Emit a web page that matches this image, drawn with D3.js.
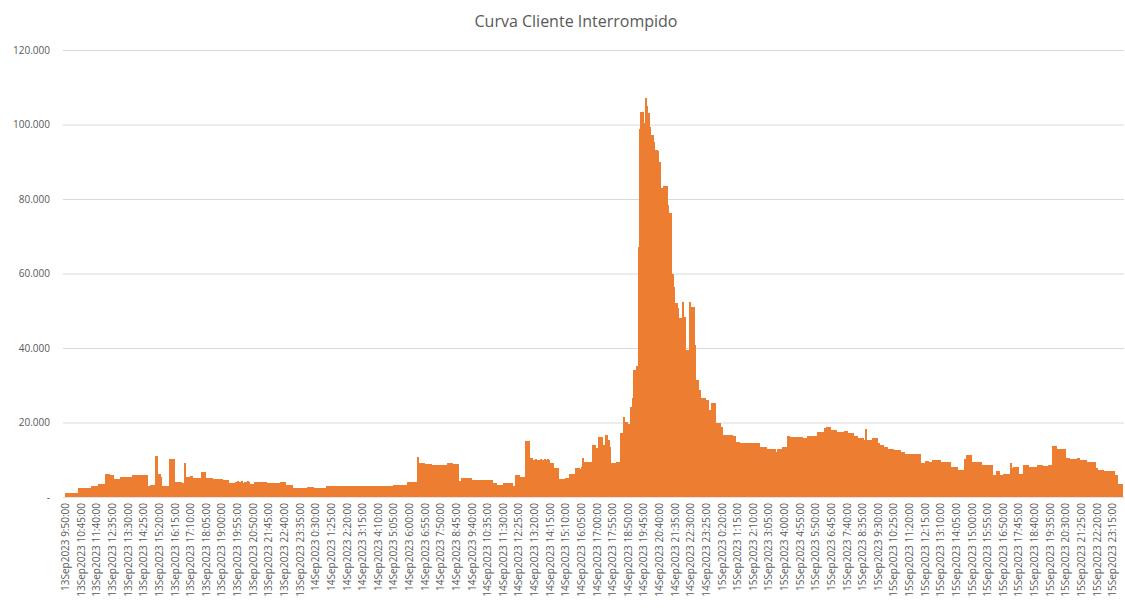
<!DOCTYPE html>
<html>
<head>
<meta charset="utf-8">
<script src="https://cdn.jsdelivr.net/npm/d3@7"></script>
<style>
  body { margin: 0; background: #fff; }
  text { font-family: "Open Sans", "Liberation Sans", Arial, sans-serif; fill: #595959; }
</style>
</head>
<body>
<svg width="1125" height="608"></svg>
<script>
// chart title
var title = "Curva Cliente Interrompido";

// clientes interrompidos, one value per 5 minute bar (13Sep2023 9:50 onwards)
var clientes = [
  1200,1200,1200,1200,1200,1200,1200,1200,1200,
  2500,2500,2500,2500,2500,2500,2500,2500,2500,
  2900,2900,2900,2900,2900,
  3400,3400,3400,3400,3400,
  6300,6300,6300,
  6000,6000,6000,
  4900,4900,4900,4900,4900,
  5400,5400,5400,
  5300,5300,5300,5300,5300,
  6000,6000,6000,6000,6000,6000,6000,6000,6000,6000,6000,
  2900,2900,
  3200,3200,3200,
  11100,11100,
  6300,6300,
  5500,
  2900,2900,2900,2900,2900,
  10300,10300,10300,10300,
  4100,4100,4100,4100,4100,
  3700,3700,
  9200,
  5500,
  5300,5300,
  5700,5700,
  5100,5100,5100,5100,5100,5100,
  6800,6800,6800,
  5200,5200,5200,5200,5200,
  4800,4800,4800,4800,4800,4800,4800,
  4600,4600,4600,4600,
  3700,3700,3700,3700,3700,
  4000,4200,3900,4100,4200,3800,4100,4000,4200,3900,
  3600,3600,3600,
  4000,4000,4000,4000,4000,4000,4000,4000,4000,
  3700,3700,3700,3700,3700,3700,3700,3700,3700,
  4100,4100,4100,4100,
  3200,3200,3200,3200,3200,
  2500,2500,2500,2500,2500,2500,2500,2500,2500,2500,
  2700,2700,2700,2700,2700,
  2500,2500,2500,2500,2500,2500,2500,2500,2500,
  2900,2900,2900,2900,2900,2900,2900,2900,2900,2900,
  2900,2900,2900,2900,2900,2900,2900,2900,2900,2900,
  2900,2900,2900,2900,2900,2900,2900,2900,2900,2900,
  2900,2900,2900,2900,2900,2900,2900,2900,2900,2900,
  2900,2900,2900,2900,2900,2900,2900,
  3200,3200,3200,3200,3200,
  // 14Sep
  3100,3100,3100,3100,3100,
  4100,4100,4100,4100,4100,4100,4100,
  10700,
  9200,9200,9200,9200,
  8800,8800,8800,8800,8800,
  8600,8600,8600,8600,
  8500,8500,8500,8500,8500,8500,8500,
  9200,9200,9200,9200,
  8900,8900,8900,8900,
  4400,4400,
  5200,5200,5200,5200,5200,5200,5200,
  4600,4600,4600,4600,4600,4600,4600,4600,4600,4600,4600,4600,4600,4600,4600,
  3700,3700,3700,
  3200,3200,3200,3200,
  3700,3700,3700,3700,3700,3700,3700,
  2900,2900,
  5900,5900,5900,
  5400,5400,5400,5400,
  15100,15100,15100,
  10400,10400,
  9800,10000,10100,9900,10000,10200,10000,9900,10100,10000,10200,10000,
  9000,9000,9000,
  7700,7700,7700,
  4800,4800,4800,4800,4800,
  5200,5200,5200,
  6300,6300,6300,6300,
  7700,7700,
  7800,7500,8000,10400,
  9500,9500,9500,9500,9500,9500,
  14000,14000,
  13100,13100,
  16200,16200,16200,
  14000,14000,
  16600,16600,
  15300,13500,
  9000,9000,9000,9000,
  9300,9300,9300,
  17100,17100,
  21600,
  20200,20200,
  19600,19600,
  24200,26500,
  34100,34100,35200,
  67200,98700,
  103300,103300,100300,107000,105000,103000,99400,
  97200,97200,95400,93200,93200,93000,90000,
  82900,82900,83500,83500,83500,
  78400,76200,76200,
  60000,56500,52000,52000,50700,48000,48000,52400,48400,48400,
  39500,39500,52400,51100,51100,51100,
  40800,31400,31400,28700,
  26500,26500,26500,26500,
  26100,26100,
  23400,23400,
  25200,25200,25200,
  20000,20000,20000,
  18900,18900,
  16600,16600,16600,16600,16600,16600,16600,
  16400,16400,
  14800,14800,14800,
  14600,14600,14600,14600,14600,14600,14600,14600,14600,14600,14600,14600,14600,14600,
  // 15Sep
  13500,13500,13500,13500,13500,
  12800,12800,12800,12800,12800,12800,
  12200,
  13000,13000,13000,13000,
  13500,13500,13500,
  16400,16400,
  16000,16000,16000,16000,16000,16000,
  16200,16200,16200,
  15900,15900,15900,
  16400,16400,16400,16400,16400,16400,16400,
  17400,17400,17400,17400,17400,
  18400,18400,
  18900,18900,18900,
  18000,18000,18000,18000,
  17500,17500,17500,17500,17500,
  17800,17800,17800,
  17100,17100,17100,17100,
  16400,16400,16400,
  15800,15800,15800,15800,
  15300,18200,15300,
  15300,15300,15300,
  15800,15800,15800,15800,
  14500,
  13900,13900,13900,
  13500,13500,13500,
  12800,12800,12800,12800,
  12500,12500,12500,12500,12500,
  12000,12000,12000,
  11600,11600,11600,11600,11600,11600,11600,11600,11600,11600,11600,
  9100,9100,9100,
  9700,9700,9700,
  9300,9300,
  9900,9900,9900,9900,9900,9900,
  9500,9500,9500,9500,9500,9500,9500,
  8100,8100,8100,8100,8100,
  7200,7200,7200,7200,7200,
  10300,
  11200,11200,11200,11200,
  9500,9500,9500,9500,9500,9500,9500,
  8600,8600,8600,8600,8600,8600,8600,8600,
  5900,5900,
  7000,7000,7000,
  5900,5900,
  6100,6100,6100,6100,6100,
  9000,7700,
  8000,8000,8000,8000,
  6300,6300,6300,
  8600,8600,8600,8600,
  8000,8000,8000,8000,8000,8000,
  8600,8600,8600,8600,
  8300,8300,8300,8300,
  8600,8600,8600,
  13700,13700,13700,
  12800,12800,12800,12800,12800,12800,
  10400,10400,10400,
  10200,10200,10200,10200,10200,
  10400,10400,
  9800,9800,9800,9800,9800,
  9500,9500,9500,9500,9500,9500,
  7700,7700,
  7200,7200,7200,7200,
  7000,7000,7000,7000,7000,7000,7000,7000,
  5900,5900,
  3500,3500,3500
];

// x-axis labels, shown every 11th bar (55 minutes)
var tickLabels = [
  "13Sep2023 9:50:00","13Sep2023 10:45:00","13Sep2023 11:40:00","13Sep2023 12:35:00",
  "13Sep2023 13:30:00","13Sep2023 14:25:00","13Sep2023 15:20:00","13Sep2023 16:15:00",
  "13Sep2023 17:10:00","13Sep2023 18:05:00","13Sep2023 19:00:00","13Sep2023 19:55:00",
  "13Sep2023 20:50:00","13Sep2023 21:45:00","13Sep2023 22:40:00","13Sep2023 23:35:00",
  "14Sep2023 0:30:00","14Sep2023 1:25:00","14Sep2023 2:20:00","14Sep2023 3:15:00",
  "14Sep2023 4:10:00","14Sep2023 5:05:00","14Sep2023 6:00:00","14Sep2023 6:55:00",
  "14Sep2023 7:50:00","14Sep2023 8:45:00","14Sep2023 9:40:00","14Sep2023 10:35:00",
  "14Sep2023 11:30:00","14Sep2023 12:25:00","14Sep2023 13:20:00","14Sep2023 14:15:00",
  "14Sep2023 15:10:00","14Sep2023 16:05:00","14Sep2023 17:00:00","14Sep2023 17:55:00",
  "14Sep2023 18:50:00","14Sep2023 19:45:00","14Sep2023 20:40:00","14Sep2023 21:35:00",
  "14Sep2023 22:30:00","14Sep2023 23:25:00",
  "15Sep2023 0:20:00","15Sep2023 1:15:00","15Sep2023 2:10:00","15Sep2023 3:05:00",
  "15Sep2023 4:00:00","15Sep2023 4:55:00","15Sep2023 5:50:00","15Sep2023 6:45:00",
  "15Sep2023 7:40:00","15Sep2023 8:35:00","15Sep2023 9:30:00","15Sep2023 10:25:00",
  "15Sep2023 11:20:00","15Sep2023 12:15:00","15Sep2023 13:10:00","15Sep2023 14:05:00",
  "15Sep2023 15:00:00","15Sep2023 15:55:00","15Sep2023 16:50:00","15Sep2023 17:45:00",
  "15Sep2023 18:40:00","15Sep2023 19:35:00","15Sep2023 20:30:00","15Sep2023 21:25:00",
  "15Sep2023 22:20:00","15Sep2023 23:15:00"
];
var labelEvery = 11;

// y-axis ticks
var yTicks = [0, 20000, 40000, 60000, 80000, 100000, 120000];

var svg = d3.select("svg"),
    margin = {top: 50, right: 3, bottom: 111, left: 65},
    width = +svg.attr("width") - margin.left - margin.right,
    height = +svg.attr("height") - margin.top - margin.bottom,
    g = svg.append("g").attr("transform", "translate(" + margin.left + "," + margin.top + ")");

// one band per 5 minute bar, no gap between bars (like the excel column chart)
var x = d3.scaleBand()
    .domain(d3.range(clientes.length))
    .range([0, width])
    .padding(0);

var y = d3.scaleLinear()
    .domain([0, 120000])
    .range([height, 0]);

// 120.000 style numbers, zero shown as a dash
var fmt = function(d) {
  if (d === 0) return "-";
  return d3.format(",")(d).replace(/,/g, ".");
};

// title
svg.append("text")
    .attr("x", 576)
    .attr("y", 27)
    .attr("text-anchor", "middle")
    .attr("font-size", 16)
    .text(title);

// gridlines + y labels
var yAxis = g.append("g")
    .call(d3.axisLeft(y).tickValues(yTicks).tickFormat(fmt).tickSize(-width - 2).tickPadding(15));
yAxis.select(".domain").remove();
yAxis.selectAll(".tick line")
    .attr("stroke", "#d9d9d9")
    .attr("x1", -2);
yAxis.selectAll(".tick text")
    .attr("font-size", 10)
    .attr("fill", "#595959");

// bars, crisp edges so neighbouring bars don't leave white seams
g.append("g")
    .attr("fill", "#ed7d31")
    .attr("shape-rendering", "crispEdges")
  .selectAll("rect")
  .data(clientes)
  .enter().append("rect")
    .attr("x", function(d, i) { return x(i); })
    .attr("y", function(d) { return y(d); })
    .attr("width", x.bandwidth() + 0.6)
    .attr("height", function(d) { return height - y(d); });

// x axis, labels rotated
var xAxis = g.append("g")
    .attr("transform", "translate(0," + height + ")")
    .call(d3.axisBottom(x)
      .tickValues(tickLabels.map(function(d, k) { return k * labelEvery; }))
      .tickFormat(function(d) { return tickLabels[d / labelEvery]; })
      .tickSize(0));
xAxis.select(".domain")
    .attr("stroke", "#e4e4e4");
xAxis.selectAll(".tick text")
    .attr("font-size", 10)
    .attr("fill", "#595959")
    .attr("text-anchor", "end")
    .attr("transform", "translate(0,6) rotate(-90)")
    .attr("x", 0)
    .attr("y", 0)
    .attr("dy", "0.35em");
</script>
</body>
</html>
